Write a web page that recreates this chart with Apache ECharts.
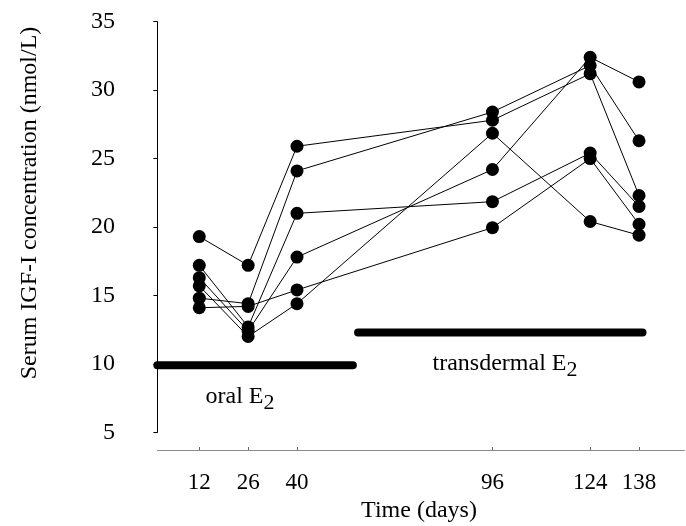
<!DOCTYPE html>
<html>
<head>
<meta charset="utf-8">
<script src="https://cdn.jsdelivr.net/npm/echarts@6/dist/echarts.min.js"></script>
<style>html,body{margin:0;padding:0;background:#fff;}#c{width:686px;height:526px;}</style>
</head>
<body>
<div id="c"></div>
<script>
// ---- data ----
const days = [12, 26, 40, 96, 124, 138];
const subjectA = [19.3, 17.2, 25.9, 27.8, 31.2, 22.3];
const subjectB = [14.8, 14.4, 24.1, 28.4, 31.8, 26.3];
const subjectC = [17.2, 12.7, 21.0, 21.85, 25.4, 21.5];
const subjectD = [16.3, 12.4, 17.8, 24.2, 32.4, 30.6];
const subjectE = [14.1, 14.2, 15.4, 19.95, 25.0, 20.2];
const subjectF = [15.7, 12.0, 14.4, 26.85, 20.4, 19.4];
const subjects = [subjectA, subjectB, subjectC, subjectD, subjectE, subjectF];
const oralPeriod = [0, 56];      // days
const oralLevel = 9.9;
const transPeriod = [57.5, 139]; // days
const transLevel = 12.3;
const yTicks = [5, 10, 15, 20, 25, 30, 35];
const xTitle = 'Time (days)';
const yTitle = 'Serum IGF-I concentration (nmol/L)';

const FONT = '"Liberation Serif", "DejaVu Serif", serif';
const chart = echarts.init(document.getElementById('c'), null, {renderer: 'canvas'});

const series = subjects.map(vals => ({
  type: 'line',
  data: days.map((d, i) => [d, vals[i]]),
  symbol: 'circle',
  symbolSize: 13,
  itemStyle: {color: '#000'},
  lineStyle: {color: '#000', width: 1},
  silent: true,
  animation: false,
  z: 3
}));
series.push({
  type: 'line',
  data: oralPeriod.map(d => [d, oralLevel]),
  symbol: 'none',
  lineStyle: {color: '#000', width: 8, cap: 'round'},
  animation: false,
  z: 2
});
series.push({
  type: 'line',
  data: transPeriod.map(d => [d, transLevel]),
  symbol: 'none',
  lineStyle: {color: '#000', width: 8, cap: 'round'},
  animation: false,
  z: 2
});

chart.setOption({
  animation: false,
  grid: {left: 157.4, top: 21.7, width: 527, bottom: 93.7, containLabel: false},
  xAxis: {
    type: 'value', min: 0, max: 151,
    offset: 17.7,
    axisLine: {lineStyle: {color: '#8a8a8a', width: 1}},
    axisTick: {show: true, inside: true, length: 3, customValues: days, lineStyle: {color: '#666'}},
    axisLabel: {customValues: days, margin: 21, fontFamily: FONT, fontSize: 23, color: '#000'},
    splitLine: {show: false}
  },
  yAxis: {
    type: 'value', min: 5, max: 35, interval: 5,
    offset: 33.4,
    axisLine: {show: true, lineStyle: {color: '#000', width: 1}},
    axisTick: {show: true, inside: false, length: 4, lineStyle: {color: '#000'}},
    axisLabel: {margin: 9, fontFamily: FONT, fontSize: 24, color: '#000', customValues: yTicks},
    splitLine: {show: false}
  },
  graphic: [
    {type: 'text', x: 419, y: 511, style: {text: xTitle, font: '24px ' + FONT, fill: '#000', align: 'center', verticalAlign: 'middle'}},
    {type: 'text', x: 30, y: 203, rotation: Math.PI / 2, style: {text: yTitle, font: '24px ' + FONT, fill: '#000', align: 'center', verticalAlign: 'middle'}},
    {type: 'text', x: 240, y: 397, style: {
      text: '{a|oral E}{b|2}', align: 'center', verticalAlign: 'middle',
      rich: {a: {fontFamily: FONT, fontSize: 24, lineHeight: 34, verticalAlign: 'middle', color: '#000'},
             b: {fontFamily: FONT, fontSize: 22, lineHeight: 22, verticalAlign: 'bottom', color: '#000'}}
    }},
    {type: 'text', x: 505, y: 364, style: {
      text: '{a|transdermal E}{b|2}', align: 'center', verticalAlign: 'middle',
      rich: {a: {fontFamily: FONT, fontSize: 24, lineHeight: 34, verticalAlign: 'middle', color: '#000'},
             b: {fontFamily: FONT, fontSize: 22, lineHeight: 22, verticalAlign: 'bottom', color: '#000'}}
    }}
  ],
  series: series
});
</script>
</body>
</html>
